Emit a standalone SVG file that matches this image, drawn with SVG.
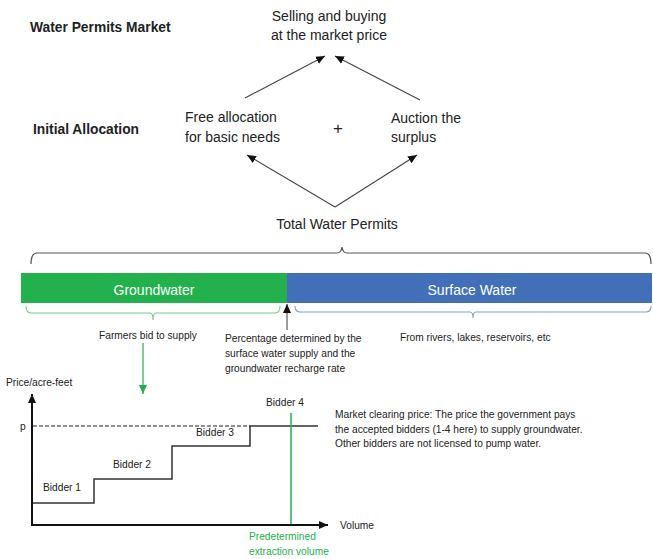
<svg xmlns="http://www.w3.org/2000/svg" width="653" height="559" viewBox="0 0 653 559">
<style>
text{font-family:"Liberation Sans",Arial,sans-serif;fill:#222}
.h{font-weight:bold;font-size:13.8px}
.m{font-size:14px}
.s{font-size:10.2px}
.w{fill:#fff;font-size:14px}
.g{fill:#22b14c}
.ln{stroke:#444;stroke-width:1.1;fill:none}
.ax{stroke:#111;stroke-width:2;fill:none}
.st{stroke:#333;stroke-width:1.5;fill:none}
</style>
<defs>
<marker id="ah" markerWidth="10" markerHeight="10" refX="9" refY="5" orient="auto" markerUnits="userSpaceOnUse">
<path d="M0,1 L9,5 L0,9 Z" fill="#111"/>
</marker>
<marker id="ahg" markerWidth="10" markerHeight="10" refX="9" refY="5" orient="auto" markerUnits="userSpaceOnUse">
<path d="M0,1 L9,5 L0,9 Z" fill="#22b14c"/>
</marker>
</defs>
<rect width="653" height="559" fill="#fff"/>

<g id="labels">
<text class="h" x="30" y="32">Water Permits Market</text>
<text class="h" x="33" y="134">Initial Allocation</text>
</g>

<g id="market">
<text class="m" x="329" y="21" text-anchor="middle">Selling and buying</text>
<text class="m" x="329" y="40" text-anchor="middle">at the market price</text>
</g>

<g id="free">
<text class="m" x="185" y="122">Free allocation</text>
<text class="m" x="185" y="142">for basic needs</text>
</g>

<g id="plus"><text x="338" y="134" text-anchor="middle" font-size="17">+</text></g>

<g id="auction">
<text class="m" x="391" y="123">Auction the</text>
<text class="m" x="391" y="142">surplus</text>
</g>

<g id="total">
<text class="m" x="337" y="229" text-anchor="middle">Total Water Permits</text>
</g>

<g id="bar">
<rect x="21" y="273" width="266" height="30" fill="#22b14c"/>
<rect x="287" y="273" width="365" height="30" fill="#4270b8"/>
<text class="w" x="154" y="295" text-anchor="middle">Groundwater</text>
<text class="w" x="472" y="295" text-anchor="middle">Surface Water</text>
</g>

<g id="notes">
<text class="s" x="99" y="339">Farmers bid to supply</text>
<text class="s" x="225" y="342">Percentage determined by the</text>
<text class="s" x="225" y="357">surface water supply and the</text>
<text class="s" x="225" y="372">groundwater recharge rate</text>
<text class="s" x="400" y="341">From rivers, lakes, reservoirs, etc</text>
</g>

<g id="chart">
<text class="s" x="6" y="386">Price/acre-feet</text>
<text class="s" x="20" y="430">p</text>
<text class="s" x="43" y="491">Bidder 1</text>
<text class="s" x="113" y="468">Bidder 2</text>
<text class="s" x="196" y="436">Bidder 3</text>
<text class="s" x="266" y="406">Bidder 4</text>
<text class="s" x="340" y="529">Volume</text>
<text class="s g" x="249" y="540">Predetermined</text>
<text class="s g" x="249" y="555">extraction volume</text>
<text class="s" x="335" y="418">Market clearing price: The price the government pays</text>
<text class="s" x="335" y="433">the accepted bidders (1-4 here) to supply groundwater.</text>
<text class="s" x="335" y="447">Other bidders are not licensed to pump water.</text>
<path class="st" d="M33,503 H94 V479 H172 V446 H250 V426 H318"/>
<path d="M33,426 H250" stroke="#222" stroke-width="1.1" stroke-dasharray="4,2"/>
<path d="M291,413 V525" stroke="#22b14c" stroke-width="1.5"/>
<path class="ax" d="M32,525 V394" marker-end="url(#ah)"/>
<path class="ax" d="M31,525 H328" marker-end="url(#ah)"/>
</g>

<g id="connectors">
<path class="ln" d="M245,98 L325,56" marker-end="url(#ah)"/>
<path class="ln" d="M420,100 L335,56" marker-end="url(#ah)"/>
<path class="ln" d="M335,207 L247,155" marker-end="url(#ah)"/>
<path class="ln" d="M335,207 L417,155" marker-end="url(#ah)"/>
<path d="M31,264 Q31,253 37,253 H337 Q341,253 342,247 Q343,253 347,253 H645 Q651,253 651,264" fill="none" stroke="#555" stroke-width="1.2"/>
<path d="M26,306 Q26,313 31,313 H150 Q153,313 153,320 Q153,313 156,313 H275 Q280,313 280,306" fill="none" stroke="#6fcf8c" stroke-width="1.1"/>
<path d="M295,306 Q295,312 300,312 H470 Q473,312 473,318 Q473,312 476,312 H646 Q651,312 651,306" fill="none" stroke="#7f9fd8" stroke-width="1.1"/>
<path d="M287,330 V304" stroke="#666" stroke-width="1.3" marker-end="url(#ah)"/>
<path d="M143,343 V394" stroke="#22b14c" stroke-width="1.2" marker-end="url(#ahg)"/>
</g>
</svg>
